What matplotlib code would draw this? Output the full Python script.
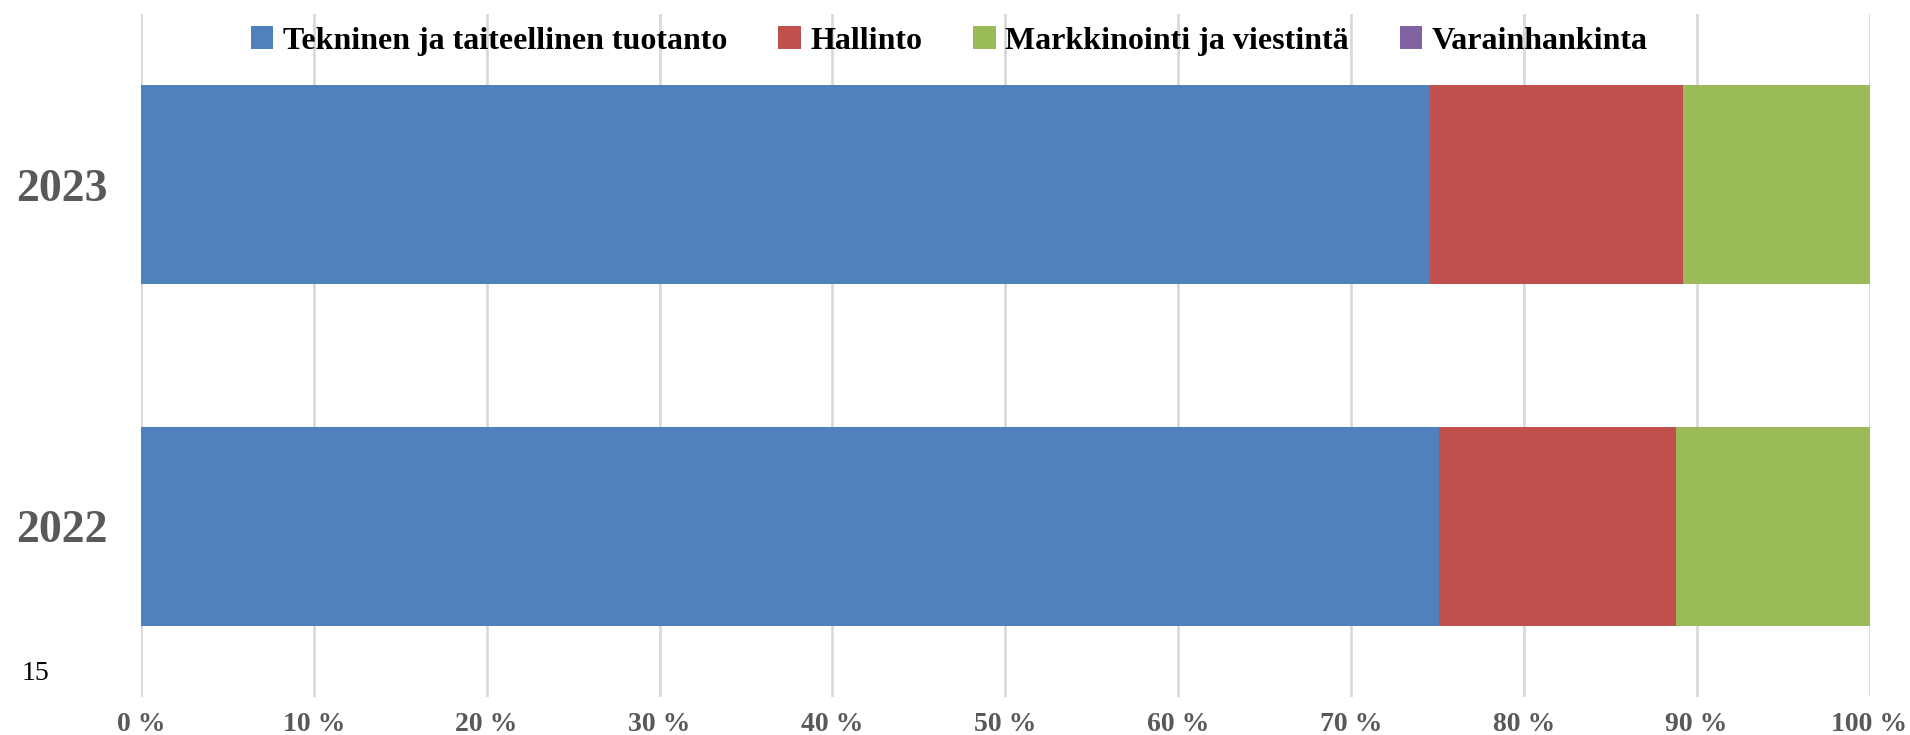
import matplotlib
matplotlib.use('Agg')
import matplotlib.pyplot as plt
import numpy as np

# Data (shares of total, %)
years = ['2022', '2023']
categories = ['Tekninen ja taiteellinen tuotanto', 'Hallinto',
              'Markkinointi ja viestintä', 'Varainhankinta']
tekninen = [75.1, 74.55]
hallinto = [13.7, 14.65]
markkinointi = [11.2, 10.8]
varainhankinta = [0.0, 0.0]
colors = ['#4f81bd', '#c0504d', '#9bbb59', '#8064a2']
xticks = [0, 10, 20, 30, 40, 50, 60, 70, 80, 90, 100]

plt.rcParams['font.family'] = ['Liberation Serif', 'DejaVu Serif']

fig = plt.figure(figsize=(19.1, 7.35), dpi=100)
ax = fig.add_axes([0.0738, 0.0517, 0.905, 0.9293])

series = [tekninen, hallinto, markkinointi, varainhankinta]
y = np.arange(len(years))
left = np.zeros(len(years))
handles = []
for vals, name, c in zip(series, categories, colors):
    b = ax.barh(y, vals, left=left, height=0.583, color=c, label=name, zorder=3)
    handles.append(b)
    left += np.array(vals)

ax.set_xlim(0, 100)
ax.set_ylim(-0.5, 1.5)
ax.set_xticks(xticks)
ax.set_xticklabels([f'{t} %' for t in xticks], fontsize=20, fontweight='bold', color='#595959')
ax.set_yticks(y)
ax.set_yticklabels(years, fontsize=33, fontweight='bold', color='#595959')
ax.tick_params(axis='both', length=0)
ax.tick_params(axis='x', pad=11)
ax.tick_params(axis='y', pad=24)
ax.xaxis.grid(True, color='#d9d9d9', linewidth=2, zorder=0)
for s in ax.spines.values():
    s.set_visible(False)

leg = fig.legend(handles=handles, labels=categories, loc='center', bbox_to_anchor=(0.497, 0.944),
                 ncol=4, frameon=False, prop={'size': 23, 'weight': 'bold'},
                 handlelength=0.7, handleheight=0.7, handletextpad=0.3, columnspacing=1.6)

fig.text(0.0115, 0.083, '15', fontsize=20, color='black', va='center')

fig.savefig('out.png', dpi=100)
